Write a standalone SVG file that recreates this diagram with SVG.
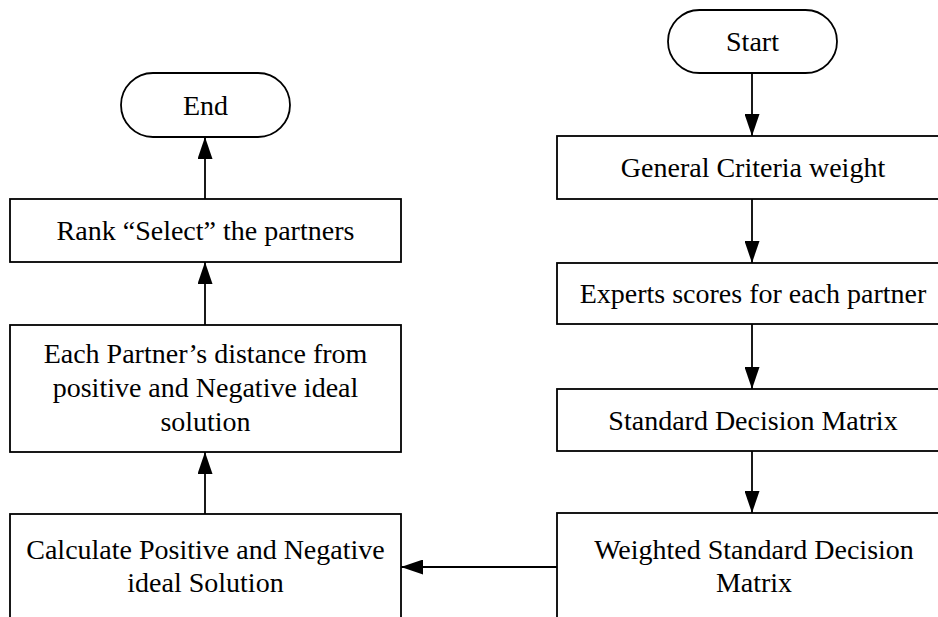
<svg xmlns="http://www.w3.org/2000/svg" width="938" height="617" viewBox="0 0 938 617">
  <style>
    .shape { fill: #ffffff; stroke: #000000; stroke-width: 1.8; }
    .label { font-family: "Liberation Serif", "Times New Roman", serif; font-size: 28px; fill: #000000; text-anchor: middle; }
    .edge { fill: none; stroke: #000000; stroke-width: 1.8; marker-end: url(#arrow); }
  </style>
  <defs>
    <marker id="arrow" viewBox="0 0 22 15" refX="22" refY="7.5" markerWidth="22" markerHeight="15" markerUnits="userSpaceOnUse" orient="auto">
      <path d="M0,0 L22,7.5 L0,15 z" fill="#000000"/>
    </marker>
  </defs>
  <rect width="938" height="617" fill="#ffffff"/>

  <!-- right column: top to bottom -->
  <g id="start">
    <rect class="shape" x="668" y="10" width="169" height="63" rx="31.5" ry="31.5"/>
    <text class="label" x="752.5" y="51">Start</text>
  </g>
  <g id="criteria-weight">
    <rect class="shape" x="557" y="136" width="392" height="63"/>
    <text class="label" x="753" y="177">General Criteria weight</text>
  </g>
  <g id="expert-scores">
    <rect class="shape" x="557" y="263" width="392" height="61"/>
    <text class="label" x="753" y="303">Experts scores for each partner</text>
  </g>
  <g id="decision-matrix">
    <rect class="shape" x="557" y="389" width="392" height="62"/>
    <text class="label" x="753" y="430">Standard Decision Matrix</text>
  </g>
  <g id="weighted-matrix">
    <rect class="shape" x="557" y="513" width="392" height="127"/>
    <text class="label" x="754" y="559">Weighted Standard Decision</text>
    <text class="label" x="754" y="592">Matrix</text>
  </g>

  <!-- left column: bottom to top -->
  <g id="ideal-solution">
    <rect class="shape" x="10" y="514" width="391" height="127"/>
    <text class="label" x="205.5" y="559">Calculate Positive and Negative</text>
    <text class="label" x="205.5" y="592">ideal Solution</text>
  </g>
  <g id="partner-distance">
    <rect class="shape" x="10" y="325" width="391" height="127"/>
    <text class="label" x="205.5" y="363">Each Partner’s distance from</text>
    <text class="label" x="205.5" y="397">positive and Negative ideal</text>
    <text class="label" x="205.5" y="431">solution</text>
  </g>
  <g id="rank">
    <rect class="shape" x="10" y="199" width="391" height="63"/>
    <text class="label" x="205.5" y="240">Rank “Select” the partners</text>
  </g>
  <g id="end">
    <rect class="shape" x="121" y="73" width="169" height="64" rx="32" ry="32"/>
    <text class="label" x="205.5" y="115">End</text>
  </g>

  <g id="connectors">
    <line class="edge" x1="752" y1="73" x2="752" y2="136"/>
    <line class="edge" x1="752" y1="199" x2="752" y2="263"/>
    <line class="edge" x1="752" y1="324" x2="752" y2="389"/>
    <line class="edge" x1="752" y1="451" x2="752" y2="513"/>
    <line class="edge" x1="557" y1="567" x2="401" y2="567"/>
    <line class="edge" x1="205" y1="514" x2="205" y2="452"/>
    <line class="edge" x1="205" y1="325" x2="205" y2="262"/>
    <line class="edge" x1="205" y1="199" x2="205" y2="137"/>
  </g>
</svg>
